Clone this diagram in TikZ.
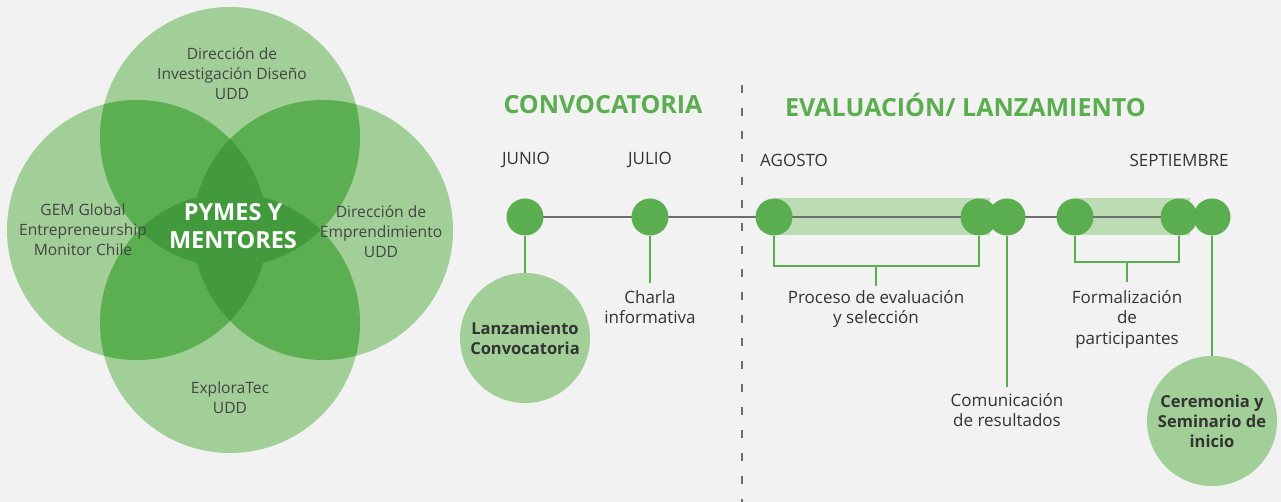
\documentclass[tikz,border=0pt]{standalone}
\usepackage{fontspec}
\setmainfont{Open Sans}
\definecolor{bg}{HTML}{F2F2F2}
\definecolor{lg}{HTML}{A1CF97}
\definecolor{mg}{HTML}{5BAF50}
\definecolor{dg}{HTML}{439A3D}
\definecolor{dotc}{HTML}{5AAE4F}
\definecolor{barc}{HTML}{BCDDB4}
\definecolor{txt}{HTML}{333333}
\definecolor{vtxt}{HTML}{444444}
\definecolor{linec}{HTML}{6E6E6E}
\begin{document}
\begin{tikzpicture}[x=1pt,y=-1pt,
  vtext/.style={text=vtxt,align=center,font=\fontsize{15.6}{20}\selectfont,inner sep=0pt},
  month/.style={text=txt,font=\fontsize{17}{20}\selectfont,inner sep=0pt},
  title/.style={text=dotc,font=\bfseries\fontsize{25}{28}\selectfont,inner sep=0pt},
  lbl/.style={text=txt,align=center,font=\fontsize{17}{20.5}\selectfont,inner sep=2pt},
  dotn/.style={circle,fill=dotc,minimum size=37pt,inner sep=0pt},
  bigc/.style={circle,fill=lg,minimum size=130pt,inner sep=0pt,text=txt,align=center,font=\bfseries\fontsize{16.5}{20}\selectfont},
  gl/.style={draw=dotc,line width=2pt},
  tl/.style={draw=linec,line width=2.5pt},
  sep/.style={draw=linec,line width=2pt,dash pattern=on 8pt off 15pt}]
\fill[bg] (0,0) rectangle (1281,502);
\useasboundingbox (0,0) rectangle (1281,502);
% Venn
\def\CT{(230,137) circle (130pt)}
\def\CB{(230,323) circle (130pt)}
\def\CL{(137,230) circle (130pt)}
\def\CR{(323,230) circle (130pt)}
\fill[lg] \CT; \fill[lg] \CB; \fill[lg] \CL; \fill[lg] \CR;
\begin{scope}\clip \CT; \fill[mg] \CL; \fill[mg] \CR; \end{scope}
\begin{scope}\clip \CB; \fill[mg] \CL; \fill[mg] \CR; \end{scope}
\begin{scope}\clip \CL; \clip \CR; \fill[dg] \CT; \fill[dg] \CB; \end{scope}
\begin{scope}\clip \CT; \clip \CB; \fill[dg] \CL; \fill[dg] \CR; \end{scope}
\node[vtext] (vt) at (232,74) {Dirección de\\Investigación Diseño\\UDD};
\node[vtext] (vl) at (83,230) {GEM Global\\Entrepreneurship\\Monitor Chile};
\node[vtext] (vr) at (381,232) {Dirección de\\Emprendimiento\\UDD};
\node[vtext] (vb) at (230,398) {ExploraTec\\UDD};
\node[text=white,align=center,font=\bfseries\fontsize{23.5}{28}\selectfont,inner sep=0pt] (pm) at (233,226) {PYMES Y\\MENTORES};
% separator
\coordinate (s1) at (742,85);
\coordinate (s2) at (742,502);
\draw[sep] (s1) -- (s2);
% titles
\node[title] (t1) at (603,105) {CONVOCATORIA};
\node[title,anchor=west] (t2) at (785,105) {EVALUACIÓN/ LANZAMIENTO};
% months
\node[month] (m1) at (526,160) {JUNIO};
\node[month] (m2) at (650,160) {JULIO};
\node[month,anchor=west] (m3) at (760,160) {AGOSTO};
\node[month] (m4) at (1179,160) {SEPTIEMBRE};
% timeline coordinates
\coordinate (p1) at (525,217);
\coordinate (p2) at (650,217);
\coordinate (p3) at (774,217);
\coordinate (p4) at (979,217);
\coordinate (p5) at (1007,217);
\coordinate (p6) at (1075,217);
\coordinate (p7) at (1179,217);
\coordinate (p8) at (1212,217);
\fill[barc] (774,198.5) rectangle (990,235.5);
\fill[barc] (1075,198.5) rectangle (1190,235.5);
\draw[tl] (p1) -- (p8);
\foreach \i in {1,...,8} {\node[dotn] (d\i) at (p\i) {};}
% brackets
\coordinate (b1) at (876,266);
\coordinate (b1t) at (876,286);
\draw[gl] (d3.south) |- (b1) -| (d4.south);
\draw[gl] (b1) -- (b1t);
\coordinate (b2) at (1127,262);
\coordinate (b2t) at (1127,282);
\draw[gl] (d6.south) |- (b2) -| (d7.south);
\draw[gl] (b2) -- (b2t);
% circles
\node[bigc] (lz) at (525,338) {Lanzamiento\\Convocatoria};
\draw[gl] (d1.south) -- (lz.north);
\node[bigc] (cer) at (1212,421) {Ceremonia y\\Seminario de\\inicio};
\draw[gl] (d8.south) -- (cer.north);
% labels
\node[lbl,anchor=north] (ch) at (650,288) {Charla\\informativa};
\coordinate (chtop) at (650,283);
\draw[gl] (d2.south) -- (chtop);
\node[lbl,anchor=north] (pe) at (876,288) {Proceso de evaluación\\y selección};
\node[lbl,anchor=north] (fo) at (1127,288) {Formalización\\de\\participantes};
\node[lbl,anchor=north] (co) at (1007,391) {Comunicación\\de resultados};
\coordinate (cotop) at (1007,387);
\draw[gl] (d5.south) -- (cotop);
\end{tikzpicture}
\end{document}
